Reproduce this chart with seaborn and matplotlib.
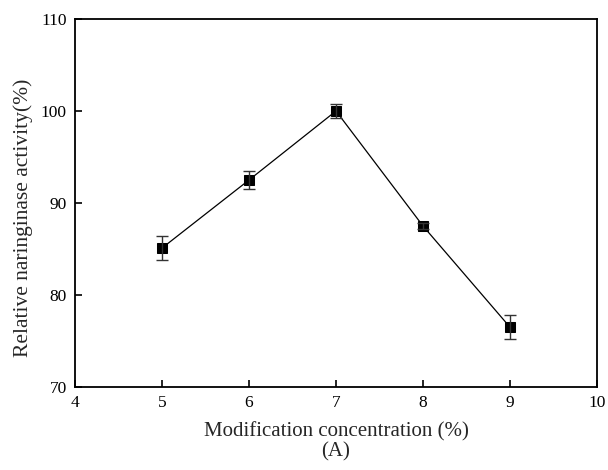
import matplotlib
matplotlib.use("Agg")
import matplotlib.pyplot as plt
import seaborn as sns
import pandas as pd

conc = [5, 6, 7, 8, 9]
activity = [85.1, 92.5, 100.0, 87.5, 76.5]
err = [1.3, 1.0, 0.8, 0.3, 1.3]
xticks = [4, 5, 6, 7, 8, 9, 10]
yticks = [70, 80, 90, 100, 110]

sns.set_theme(style="ticks")
plt.rcParams['font.family'] = ['Liberation Serif', 'DejaVu Serif']

df = pd.DataFrame({"conc": conc, "activity": activity, "err": err})

fig = plt.figure(figsize=(6.08, 4.70), dpi=100)
ax = fig.add_axes([75/608, 1 - 387/470, (597-75)/608, (387-19)/470])

sns.lineplot(data=df, x="conc", y="activity", ax=ax, color="black", linewidth=0.9,
             marker="s", markersize=7, markeredgecolor="black", markerfacecolor="black")
ax.errorbar(df["conc"], df["activity"], yerr=df["err"], fmt="none", ecolor="#333333",
            elinewidth=1.0, capsize=4, capthick=1.0)

ax.set_xlim(4, 10)
ax.set_ylim(70, 110)
ax.set_xticks(xticks)
ax.set_yticks(yticks)
ax.tick_params(direction="in", length=5, width=1.2, labelsize=12.5, colors="black", pad=6)
for s in ax.spines.values():
    s.set_linewidth(1.3)
    s.set_color("black")
ax.set_xlabel("Modification concentration (%)\n(A)", fontsize=15, labelpad=8, linespacing=1.05)
ax.set_ylabel("Relative naringinase activity(%)", fontsize=15.5)
ax.yaxis.set_label_coords(-0.08, 0.46)

fig.savefig("out.png", dpi=100)
